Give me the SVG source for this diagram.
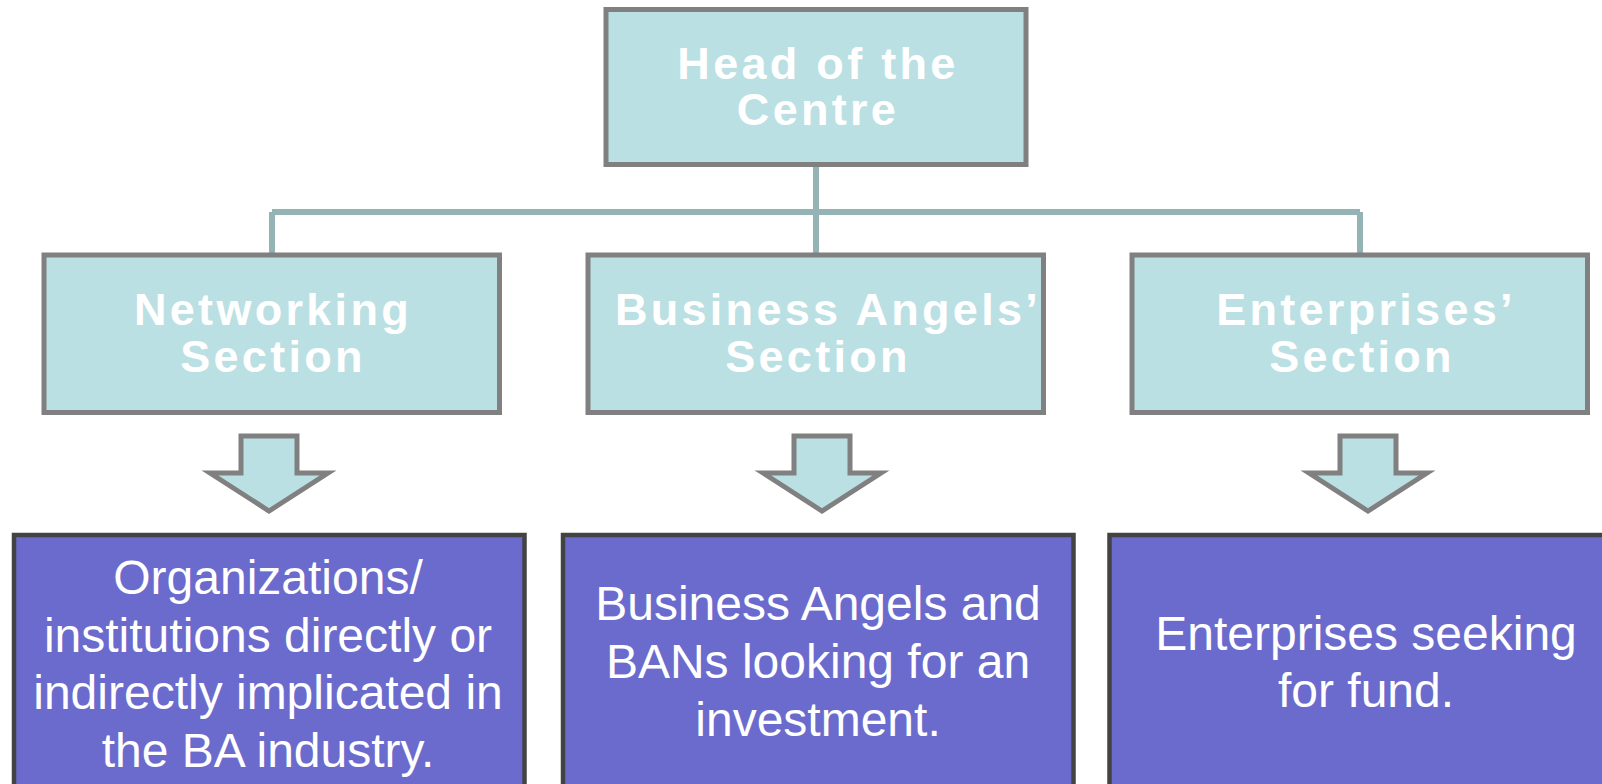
<svg xmlns="http://www.w3.org/2000/svg" width="1602" height="784" viewBox="0 0 1602 784">
<style>
.sec{fill:#bbe0e3;stroke:#808080;stroke-width:5}
.leaf{fill:#6b6bcd;stroke:#434343;stroke-width:4.5}
.arr{fill:#bbe0e3;stroke:#808080;stroke-width:5;stroke-linejoin:miter}
.conn{fill:none;stroke:#94b3b5;stroke-width:6}
.h{font-family:"Liberation Sans",Arial,sans-serif;font-weight:bold;font-size:45px;letter-spacing:3.3px;fill:#ffffff;text-anchor:middle}
.t{font-family:"Liberation Sans",Arial,sans-serif;font-size:48px;fill:#ffffff;text-anchor:middle}
</style>
<rect width="1602" height="784" fill="#ffffff"/>
<g id="connectors">
<path class="conn" d="M816 164 V255 M272 212 H1360 M272 212 V255 M1360 212 V255"/>
</g>
<g id="head">
<rect class="sec" x="606" y="9.5" width="420" height="155"/>
<text class="h" x="818" y="79">Head of the</text>
<text class="h" x="818" y="125">Centre</text>
</g>
<g id="networking">
<rect class="sec" x="44" y="255" width="455.5" height="157.5"/>
<text class="h" x="273" y="325">Networking</text>
<text class="h" x="273" y="372">Section</text>
</g>
<g id="angels">
<rect class="sec" x="588" y="255" width="455.5" height="157.5"/>
<text class="h" x="828" y="325">Business Angels’</text>
<text class="h" x="818" y="372">Section</text>
</g>
<g id="enterprises">
<rect class="sec" x="1132" y="255" width="455.5" height="157.5"/>
<text class="h" x="1366" y="325">Enterprises’</text>
<text class="h" x="1362" y="372">Section</text>
</g>
<g id="arrow1">
<path class="arr" d="M241 436 H297 V473 H328 L269 511 L210 473 H241 Z"/>
</g>
<g id="arrow2">
<path class="arr" d="M794 436 H850 V473 H881 L822 511 L763 473 H794 Z"/>
</g>
<g id="arrow3">
<path class="arr" d="M1340 436 H1396 V473 H1427 L1368 511 L1309 473 H1340 Z"/>
</g>
<g id="orgs">
<rect class="leaf" x="14" y="535" width="510.5" height="270"/>
<text class="t" x="268" y="594">Organizations/</text>
<text class="t" x="268" y="651.5">institutions directly or</text>
<text class="t" x="268" y="709">indirectly implicated in</text>
<text class="t" x="268" y="766.5">the BA industry.</text>
</g>
<g id="bans">
<rect class="leaf" x="563" y="535" width="510.5" height="270"/>
<text class="t" x="818" y="620">Business Angels and</text>
<text class="t" x="818" y="678">BANs looking for an</text>
<text class="t" x="818" y="736">investment.</text>
</g>
<g id="seekers">
<rect class="leaf" x="1109.5" y="535" width="530" height="270"/>
<text class="t" x="1366" y="650">Enterprises seeking</text>
<text class="t" x="1366" y="707">for fund.</text>
</g>
</svg>
